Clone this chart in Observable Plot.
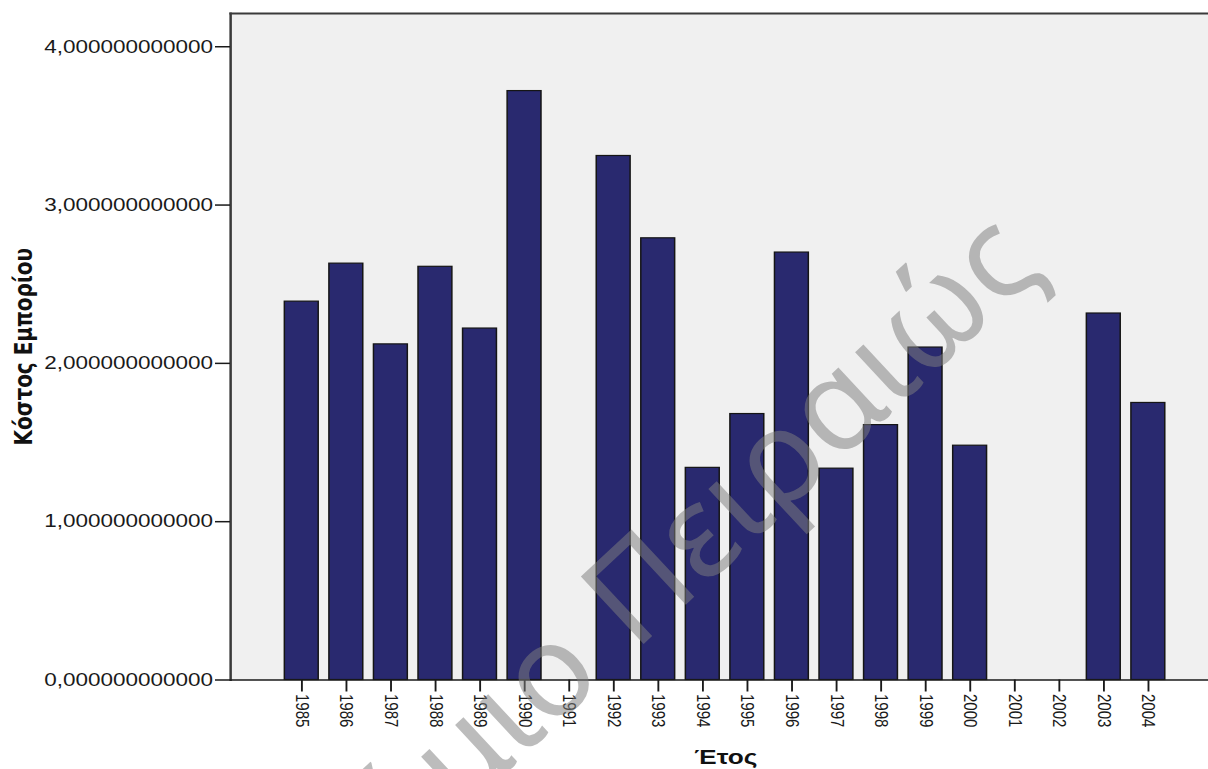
<!DOCTYPE html>
<html>
<head>
<meta charset="utf-8">
<script src="https://cdn.jsdelivr.net/npm/d3@7"></script>
<script src="https://cdn.jsdelivr.net/npm/@observablehq/plot@0.6"></script>
<style>
  html, body { margin: 0; padding: 0; background: #fff; overflow: hidden; }
  #chart svg { display: block; }
</style>
</head>
<body>
<div id="chart"></div>
<script>
// Trade cost per year (years with no record are null and drawn as gaps)
const years = [1985, 1986, 1987, 1988, 1989, 1990, 1991, 1992, 1993, 1994,
               1995, 1996, 1997, 1998, 1999, 2000, 2001, 2002, 2003, 2004];
const cost = [2.39, 2.63, 2.12, 2.61, 2.22, 3.72, null, 3.31, 2.79, 1.34,
              1.68, 2.70, 1.335, 1.61, 2.10, 1.48, null, null, 2.315, 1.75];
const yTicks = [0, 1, 2, 3, 4];
const yLabel = "Κόστος Εμπορίου";
const xLabel = "Έτος";
const watermarkLead = "Πανεπιστήμιο";
const watermarkTail = "Πειραιώς";

const data = years.map((year, i) => ({year, cost: cost[i]})).filter(d => d.cost != null);

// The chart is laid out in a narrower coordinate space and stretched
// horizontally to the page width, which widens all glyphs the same way.
const stretch = 1.25;
const outWidth = 1208, height = 769;
const width = outWidth / stretch;

// watermark: baseline start of the second word, angle, size, word gap
const wmAngle = -43;
const wmX = 323, wmY = 639, wmGap = 39, wmSize = 129;

const watermarkStyle = {
  frameAnchor: "top-left", dx: wmX, dy: wmY, rotate: wmAngle, lineAnchor: "bottom",
  fontSize: wmSize, fontFamily: "'Noto Sans', sans-serif", fill: "#7e7e7e", fillOpacity: 0.52
};

const chart = Plot.plot({
  width, height,
  marginLeft: 184, marginRight: 0, marginTop: 13, marginBottom: 89.5,
  insetLeft: 39.2, insetRight: 30.3,
  style: {fontFamily: "'Liberation Sans', Arial, sans-serif", background: "#fff", color: "#1a1a1a"},
  x: {type: "band", domain: years, paddingInner: 0.24, paddingOuter: 0.12, align: 0.5, round: false},
  y: {domain: [0, 4.21]},
  marks: [
    Plot.frame({fill: "#f0f0f0", stroke: null}),
    Plot.frame({anchor: "left", stroke: "#3a3a3a", strokeWidth: 2}),
    Plot.frame({anchor: "top", stroke: "#3a3a3a", strokeWidth: 2}),
    Plot.barY(data, {x: "year", y: "cost", fill: "#29296f", stroke: "#151515", strokeWidth: 1.2}),
    Plot.ruleY([0], {stroke: "#1a1a1a", strokeWidth: 1.5}),
    Plot.axisY({ticks: yTicks, tickSize: 12, tickPadding: 2, strokeWidth: 1.5,
                tickFormat: d => d.toFixed(12).replace(".", ","), fontSize: 18, label: null}),
    Plot.axisX({tickSize: 12, tickPadding: 2, tickRotate: 90, fontSize: 15, label: null,
                strokeWidth: 1.5, tickFormat: d => String(d)}),
    Plot.text([yLabel], {text: d => d, frameAnchor: "left", textAnchor: "middle", rotate: -90, dx: -173.3,
                         lineAnchor: "top", fontSize: 20, fontWeight: "bold",
                         fontFamily: "'DejaVu Sans', sans-serif", fill: "#111"}),
    Plot.text([xLabel], {text: d => d, frameAnchor: "bottom", textAnchor: "middle", dx: 5, dy: 69.5,
                         lineAnchor: "top", fontSize: 21, fontWeight: "bold", fill: "#111"}),
    // semi-transparent watermark across the plot
    Plot.text([watermarkTail], {...watermarkStyle, text: d => d, textAnchor: "start", className: "wm-tail"}),
    Plot.text([watermarkLead], {...watermarkStyle, text: d => d, textAnchor: "end", className: "wm-lead"})
  ]
});

// keep the watermark glyphs undistorted by the horizontal stretch
chart.querySelectorAll(".wm-tail text, .wm-lead text").forEach(t => {
  const lead = t.closest(".wm-lead") != null;
  const tr = t.getAttribute("transform") || "";
  t.setAttribute("transform",
    tr.replace(/rotate\(/, `scale(${1 / stretch},1) rotate(`) + (lead ? ` translate(${-wmGap},0)` : ""));
});

chart.setAttribute("width", outWidth);
chart.setAttribute("height", height);
chart.setAttribute("preserveAspectRatio", "none");
chart.style.maxWidth = "none";
document.getElementById("chart").appendChild(chart);
</script>
</body>
</html>
